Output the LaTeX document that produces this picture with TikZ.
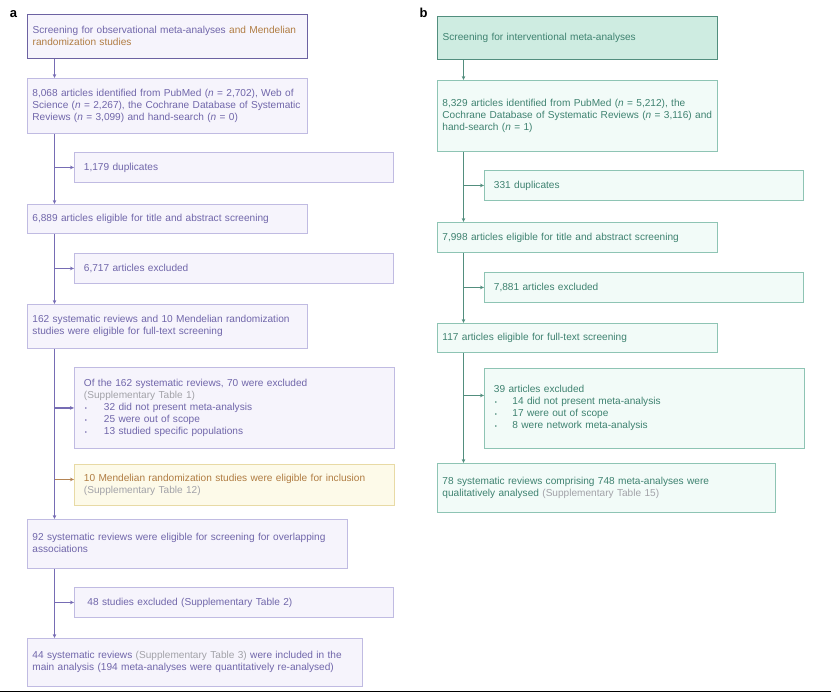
\documentclass[tikz,border=0pt]{standalone}
\usepackage{fontspec}
\setmainfont{Liberation Sans}
\usetikzlibrary{arrows.meta}

% colours of panel a
\definecolor{aline}{RGB}{118,108,180}
\definecolor{aedge}{RGB}{192,187,226}
\definecolor{atop}{RGB}{108,98,162}
\definecolor{afill}{RGB}{246,244,252}
\definecolor{atext}{RGB}{112,102,170}
\definecolor{mrtext}{RGB}{176,124,66}
\definecolor{mrline}{RGB}{180,132,84}
\definecolor{mredge}{RGB}{232,218,165}
\definecolor{mrfill}{RGB}{253,250,233}
\definecolor{suptext}{RGB}{162,162,168}
% colours of panel b
\definecolor{bline}{RGB}{82,142,126}
\definecolor{bedge}{RGB}{142,196,180}
\definecolor{btop}{RGB}{82,142,126}
\definecolor{bfill}{RGB}{242,251,248}
\definecolor{btopfill}{RGB}{206,236,225}
\definecolor{btext}{RGB}{62,130,112}

% lines of a box, kept as they are set in the figure
\newcommand{\boxlines}[1]{\begin{tabular}{@{}l@{}}#1\end{tabular}}
\newcommand{\dotitem}[2]{\makebox[#1][l]{\hspace{1pt}\fontsize{6}{6}\selectfont\textbullet}#2}

\tikzset{
  box/.style={draw, rectangle, anchor=north west, inner ysep=0pt, align=left,
    line width=0.9pt, font=\fontsize{10.1}{12}\selectfont},
  abox/.style={box, draw=aedge, fill=afill, text=atext, inner xsep=5pt},
  aside/.style={abox, inner xsep=9.5pt},
  mrbox/.style={box, draw=mredge, fill=mrfill, text=mrtext, inner xsep=9.5pt},
  bbox/.style={box, draw=bedge, fill=bfill, text=btext, inner xsep=5pt},
  bside/.style={bbox, inner xsep=9.5pt},
  aflow/.style={draw=aline, line width=1.4pt, -{Stealth[length=4pt,width=3.6pt]}},
  abranch/.style={draw=aline, line width=1.1pt, -{Stealth[length=4pt,width=3.6pt]}},
  mrbranch/.style={draw=mrline, line width=1.1pt, -{Stealth[length=4pt,width=3.6pt]}},
  bflow/.style={draw=bline, line width=1.4pt, -{Stealth[length=4pt,width=3.6pt]}},
  bbranch/.style={draw=bline, line width=1.1pt, -{Stealth[length=4pt,width=3.6pt]}},
  panel/.style={font=\fontsize{13}{13}\selectfont\bfseries, inner sep=0pt}
}

\begin{document}
\begin{tikzpicture}[x=1pt, y=-1pt]
    \useasboundingbox (0,0) rectangle (831,693);

    % panel labels
    \node[panel] (la) at (13.5,14.5) {a};
    \node[panel] (lb) at (423.5,13) {b};

    % trunk positions
    \coordinate (ta) at (54.5,0);
    \coordinate (tb) at (463.5,0);

    % panel a: boxes down the trunk
    \node[abox, draw=atop, line width=1.4pt, minimum width=280pt, text width=270pt, minimum height=44pt] (a1) at (27,14)
      {\boxlines{Screening for observational meta-analyses {\color{mrtext}and Mendelian}\\{\color{mrtext}randomization studies}}};
    \node[abox, minimum width=280pt, text width=270pt, minimum height=55pt] (a2) at (27,78)
      {\boxlines{8,068 articles identified from PubMed (\textit{n} = 2,702), Web of\\Science (\textit{n} = 2,267), the Cochrane Database of Systematic\\Reviews (\textit{n} = 3,099) and hand-search (\textit{n} = 0)}};
    \node[abox, minimum width=280pt, text width=270pt, minimum height=29pt] (a4) at (27,204)
      {6,889 articles eligible for title and abstract screening};
    \node[abox, minimum width=280pt, text width=270pt, minimum height=44pt] (a6) at (27,304)
      {\boxlines{162 systematic reviews and 10 Mendelian randomization\\studies were eligible for full-text screening}};
    \node[abox, minimum width=320pt, text width=310pt, minimum height=49pt] (a9) at (27,519)
      {\boxlines{92 systematic reviews were eligible for screening for overlapping\\associations}};
    \node[abox, minimum width=335pt, text width=325pt, minimum height=48pt] (a11) at (27,638)
      {\boxlines{44 systematic reviews {\color{suptext}(Supplementary Table 3)} were included in the\\main analysis (194 meta-analyses were quantitatively re-analysed)}};

    % panel a: side boxes
    \node[aside, minimum width=319pt, text width=300pt, minimum height=30pt] (a3) at (74,152)
      {1,179 duplicates};
    \node[aside, minimum width=319pt, text width=300pt, minimum height=30pt] (a5) at (74,253)
      {6,717 articles excluded};
    \node[aside, minimum width=320pt, text width=301pt, minimum height=81pt] (a7) at (74,367)
      {\boxlines{Of the 162 systematic reviews, 70 were excluded\\{\color{suptext}(Supplementary Table 1)}\\
       \dotitem{20pt}{32 did not present meta-analysis}\\
       \dotitem{20pt}{25 were out of scope}\\
       \dotitem{20pt}{13 studied specific populations}}};
    \node[mrbox, minimum width=320pt, text width=301pt, minimum height=41pt] (a8) at (74,464)
      {\boxlines{10 Mendelian randomization studies were eligible for inclusion\\{\color{suptext}(Supplementary Table 12)}}};
    \node[aside, minimum width=319pt, text width=300pt, minimum height=30pt] (a10) at (74,587)
      {\hspace{3.5pt}48 studies excluded (Supplementary Table 2)};

    % panel a: connectors
    \draw[aflow] (a1.south -| ta) -- (a2.north -| ta);
    \draw[aflow] (a2.south -| ta) -- (a4.north -| ta);
    \draw[aflow] (a4.south -| ta) -- (a6.north -| ta);
    \draw[aflow] (a6.south -| ta) -- (a9.north -| ta);
    \draw[aflow] (a9.south -| ta) -- (a11.north -| ta);
    \draw[abranch] (a3.west -| ta) -- (a3.west);
    \draw[abranch] (a5.west -| ta) -- (a5.west);
    \draw[abranch] (a7.west -| ta) -- (a7.west);
    \draw[mrbranch] ([yshift=5.5pt]a8.west -| ta) -- ([yshift=5.5pt]a8.west);
    \draw[abranch] (a10.west -| ta) -- (a10.west);

    % panel b: boxes down the trunk
    \node[bbox, draw=btop, fill=btopfill, line width=1.4pt, minimum width=280pt, text width=270pt, minimum height=43pt] (b1) at (437,16)
      {Screening for interventional meta-analyses};
    \node[bbox, minimum width=280pt, text width=270pt, minimum height=71pt] (b2) at (437,80)
      {\boxlines{8,329 articles identified from PubMed (\textit{n} = 5,212), the\\Cochrane Database of Systematic Reviews (\textit{n} = 3,116) and\\hand-search (\textit{n} = 1)}};
    \node[bbox, minimum width=280pt, text width=270pt, minimum height=30pt] (b4) at (437,222)
      {7,998 articles eligible for title and abstract screening};
    \node[bbox, minimum width=280pt, text width=270pt, minimum height=29pt] (b6) at (437,323)
      {117 articles eligible for full-text screening};
    \node[bbox, minimum width=338pt, text width=328pt, minimum height=49pt] (b8) at (437,463)
      {\boxlines{78 systematic reviews comprising 748 meta-analyses were\\qualitatively analysed {\color{suptext}(Supplementary Table 15)}}};

    % panel b: side boxes
    \node[bside, minimum width=319pt, text width=300pt, minimum height=30pt] (b3) at (484,170)
      {331 duplicates};
    \node[bside, minimum width=319pt, text width=300pt, minimum height=30pt] (b5) at (484,272)
      {7,881 articles excluded};
    \node[bside, minimum width=320pt, text width=301pt, minimum height=80pt] (b7) at (484,368)
      {\boxlines{39 articles excluded\\
       \dotitem{18.5pt}{14 did not present meta-analysis}\\
       \dotitem{18.5pt}{17 were out of scope}\\
       \dotitem{18.5pt}{8 were network meta-analysis}}};

    % panel b: connectors
    \draw[bflow] (b1.south -| tb) -- (b2.north -| tb);
    \draw[bflow] (b2.south -| tb) -- (b4.north -| tb);
    \draw[bflow] (b4.south -| tb) -- (b6.north -| tb);
    \draw[bflow] (b6.south -| tb) -- (b8.north -| tb);
    \draw[bbranch] (b3.west -| tb) -- (b3.west);
    \draw[bbranch] (b5.west -| tb) -- (b5.west);
    \draw[bbranch] ([yshift=13pt]b7.west -| tb) -- ([yshift=13pt]b7.west);

    % rule under the figure
    \draw[black, line width=1pt] (0,691.5) -- (831,691.5);
\end{tikzpicture}
\end{document}
